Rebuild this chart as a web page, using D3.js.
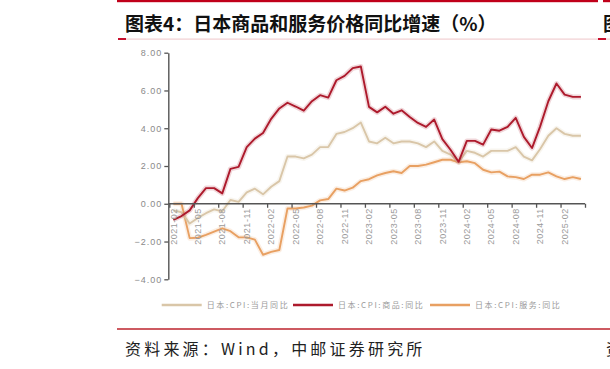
<!DOCTYPE html>
<html><head><meta charset="utf-8">
<script src="https://cdn.jsdelivr.net/npm/d3@7"></script>
<style>body{margin:0;background:#fff}svg{display:block}</style>
</head><body>
<svg id="c" width="610" height="369"></svg>
<script>
const categories = ["2021-02","2021-03","2021-04","2021-05","2021-06","2021-07","2021-08","2021-09","2021-10","2021-11","2021-12",
"2022-01","2022-02","2022-03","2022-04","2022-05","2022-06","2022-07","2022-08","2022-09","2022-10","2022-11","2022-12",
"2023-01","2023-02","2023-03","2023-04","2023-05","2023-06","2023-07","2023-08","2023-09","2023-10","2023-11","2023-12",
"2024-01","2024-02","2024-03","2024-04","2024-05","2024-06","2024-07","2024-08","2024-09","2024-10","2024-11","2024-12",
"2025-01","2025-02","2025-03","2025-04"];
const cpiTotal = [-0.35,-0.45,-1.05,-0.75,-0.5,-0.3,-0.4,0.2,0.1,0.6,0.8,0.5,0.9,1.2,2.5,2.5,2.4,2.6,3.0,3.0,3.7,3.8,4.0,
4.3,3.3,3.2,3.5,3.2,3.3,3.3,3.2,3.0,3.3,2.8,2.6,2.2,2.8,2.7,2.5,2.8,2.8,2.8,3.0,2.5,2.3,2.9,3.6,4.0,3.7,3.6,3.6];
const cpiGoods = [-0.85,-0.65,-0.35,0.3,0.83,0.83,0.55,1.85,1.95,3.0,3.45,3.75,4.5,5.05,5.35,5.15,4.93,5.43,5.75,5.62,6.54,6.77,7.18,
7.27,5.13,4.84,5.14,4.77,4.95,4.6,4.28,4.07,4.46,3.42,2.86,2.22,3.33,3.33,3.13,3.93,3.87,4.07,4.55,3.54,2.95,4.1,5.43,6.37,5.78,5.66,5.66];
const cpiServices = [0.0,0.0,-1.82,-1.8,-1.65,-1.47,-1.3,-1.45,-1.77,-1.78,-1.9,-2.7,-2.55,-2.45,-0.25,-0.25,-0.2,-0.1,0.18,0.25,0.8,0.7,0.85,
1.2,1.3,1.5,1.63,1.72,1.63,2.0,2.0,2.07,2.2,2.33,2.33,2.2,2.25,2.15,1.8,1.66,1.7,1.45,1.41,1.31,1.54,1.54,1.66,1.45,1.31,1.41,1.31];
const tickLabels = ["2021-02","2021-05","2021-08","2021-11","2022-02","2022-05","2022-08","2022-11","2023-02","2023-05","2023-08","2023-11","2024-02","2024-05","2024-08","2024-11","2025-02"];
const yTicks = [-4,-2,0,2,4,6,8];
const seriesNames = ["日本:CPI:当月同比","日本:CPI:商品:同比","日本:CPI:服务:同比"];
const seriesColors = ["#d9c6a8","#ad1a2c","#e8a062"];

const svg = d3.select("#c");
const font = "'Liberation Sans', Arial, sans-serif";
const cjk = "'Noto Sans CJK SC', sans-serif";

// frame decorations
svg.append("rect").attr("x",117).attr("y",0).attr("width",481).attr("height",2.2).attr("fill","#c0001a");
svg.append("rect").attr("x",603).attr("y",0).attr("width",7).attr("height",2.2).attr("fill","#c0001a");
svg.append("rect").attr("x",118).attr("y",38.5).attr("width",492).attr("height",1.2).attr("fill","#f1cfd2");
svg.append("rect").attr("x",118).attr("y",38).attr("width",8).attr("height",2).attr("fill","#c8102e");
svg.append("rect").attr("x",598).attr("y",38).attr("width",8).attr("height",2).attr("fill","#c8102e");
svg.append("rect").attr("x",117).attr("y",328.3).attr("width",493).attr("height",1.4).attr("fill","#b8141f");

svg.append("text").attr("x",125).attr("y",31).attr("font-family",cjk).attr("font-weight","bold")
  .attr("font-size",19).attr("fill","#111").text("图表4：日本商品和服务价格同比增速（%）");
svg.append("text").attr("x",603).attr("y",31).attr("font-family",cjk).attr("font-weight","bold")
  .attr("font-size",19).attr("fill","#111").text("图");
svg.append("text").attr("x",125).attr("y",355).attr("font-family",cjk).attr("font-size",16)
  .attr("letter-spacing","3.2px").attr("fill","#222").text("资料来源：Wind，中邮证券研究所");
svg.append("text").attr("x",606).attr("y",355).attr("font-family",cjk).attr("font-size",16)
  .attr("fill","#222").text("资");

// scales
const y = d3.scaleLinear().domain([-4,8]).range([279.3,52.7]);
const xb = d3.scaleLinear().domain([0,categories.length]).range([169.3,585]);
const xc = (i) => xb(i + 0.5);

// lines
const line = d3.line().x((d,i)=>xc(i)).y(d=>y(d));
const allSeries = [cpiTotal, cpiGoods, cpiServices];
const order = [2,0,1];
order.forEach(k=>{
  svg.append("path").datum(allSeries[k]).attr("d",line).attr("fill","none")
    .attr("stroke",seriesColors[k]).attr("stroke-width",5).attr("stroke-opacity",0.18).attr("stroke-linejoin","round");
  svg.append("path").datum(allSeries[k]).attr("d",line).attr("fill","none")
    .attr("stroke",seriesColors[k]).attr("stroke-width",1.9).attr("stroke-linejoin","round");
});

// y axis
const ya = svg.append("g").attr("transform","translate(168.3,0)")
  .call(d3.axisLeft(y).tickValues(yTicks).tickSize(4).tickSizeOuter(0).tickFormat(d3.format(".2f")));
ya.select(".domain").attr("stroke","#555").attr("stroke-width",1.4);
ya.selectAll(".tick line").attr("stroke","#555").attr("stroke-width",1.3);
ya.selectAll(".tick text").attr("font-family",font).attr("font-size",9).attr("letter-spacing","1px")
  .attr("fill","#8a8a8a").attr("x",-6);

// x axis
const xa = svg.append("g").attr("transform",`translate(0,${y(0)})`)
  .call(d3.axisBottom(xb).tickValues(d3.range(0,categories.length+1,3)).tickSize(4).tickSizeOuter(0).tickFormat(""));
xa.select(".domain").attr("stroke","#555").attr("stroke-width",1.4).attr("d",`M168.3,0H585`);
xa.selectAll(".tick line").attr("stroke","#555").attr("stroke-width",1.3);
svg.append("g").selectAll("text").data(tickLabels).join("text")
  .attr("transform",d=>`translate(${xc(categories.indexOf(d))},${y(0)+4.5}) rotate(-90)`)
  .attr("text-anchor","end").attr("dy","0.35em").attr("font-family",font).attr("font-size",9)
  .attr("letter-spacing","0.5px").attr("fill","#9a9a9a").text(d=>d);

// legend
const legX = [161.7, 293, 430];
const lg = svg.append("g").selectAll("g").data(seriesNames).join("g")
  .attr("transform",(d,i)=>`translate(${legX[i]},305)`);
lg.append("line").attr("x1",0).attr("x2",40).attr("y1",0).attr("y2",0)
  .attr("stroke",(d,i)=>seriesColors[i]).attr("stroke-width",2.4);
lg.append("text").attr("x",45).attr("y",0).attr("dy","0.35em").attr("font-family",cjk).attr("font-size",8)
  .attr("letter-spacing","1.6px").attr("fill","#9a9a9a").text(d=>d);
</script>
</body></html>
